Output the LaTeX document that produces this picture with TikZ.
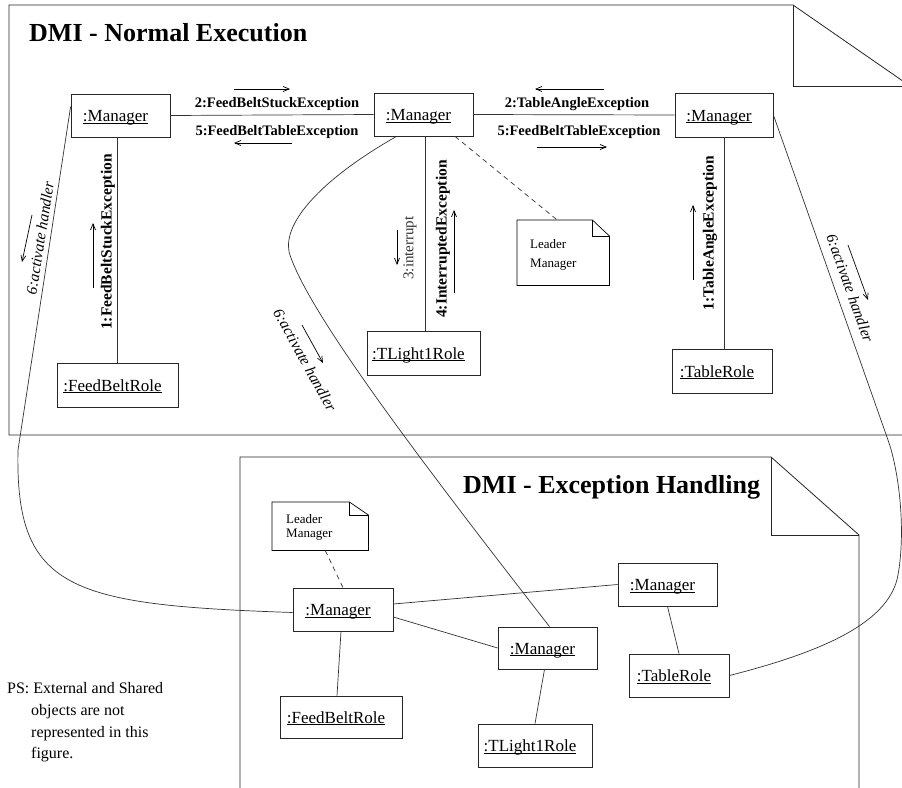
\documentclass[tikz,border=0pt]{standalone}
\usepackage{fontspec}
\setmainfont{Liberation Serif}
\usetikzlibrary{arrows.meta,calc}
\newcommand\uln[1]{\setbox0\hbox{#1}\rlap{\rule[-2.2pt]{\wd0}{0.8pt}}\box0}
\newcommand\objt[1]{\hspace*{-10pt}\uln{#1}}
\tikzset{
  obj/.style={draw=black!85, line width=0.8pt, inner sep=0pt, text height=13pt, text depth=1pt,
    font=\fontsize{17}{20}\selectfont},
  link/.style={line width=0.7pt, draw=black!80},
  msg/.style={line width=0.7pt, -{Straight Barb[length=6pt,width=5pt]}},
  hlab/.style={font=\fontsize{14.5}{17}\selectfont\bfseries, anchor=base, inner sep=0pt},
  vlab/.style={font=\fontsize{15.5}{18}\selectfont\bfseries, rotate=90, inner sep=0pt},
  ilab/.style={font=\fontsize{15.5}{18}\selectfont\itshape, inner sep=0pt},
  notetxt/.style={font=\fontsize{13}{15}\selectfont, anchor=base west, inner sep=0pt},
  frame/.style={line width=0.8pt, draw=black!85},
  title/.style={font=\fontsize{26}{30}\selectfont\bfseries, anchor=base west, inner sep=0pt},
}
\begin{document}
\begin{tikzpicture}[x=1pt,y=-1pt]
\clip (0,0) rectangle (902,787);
\fill[white] (0,0) rectangle (902,787);
% ---------- frames
\draw[frame] (9,5) -- (793,5) -- (910,86) -- (910,435) -- (9,435) -- cycle;
\draw[frame] (793,5) -- (793,86) -- (910,86);
\draw[frame] (240,457) -- (771,457) -- (859,535) -- (859,800) -- (240,800) -- cycle;
\draw[frame] (771,457) -- (771,535) -- (859,535);
\node[title] (t1) at (29,41) {DMI - Normal Execution};
\node[title] (t2) at (463,493) {DMI - Exception Handling};
% ---------- top objects
\node[obj, minimum width=99pt, minimum height=43pt] (m1) at (120.5,115.5) {\objt{:Manager}};
\node[obj, minimum width=99pt, minimum height=43pt] (m2) at (423.5,114.5) {\objt{:Manager}};
\node[obj, minimum width=98pt, minimum height=44pt] (m3) at (724,115) {\objt{:Manager}};
\node[obj, minimum width=121pt, minimum height=44pt] (fb) at (117.5,385) {\objt{:FeedBeltRole}};
\node[obj, minimum width=113pt, minimum height=44pt] (tl) at (423.5,353) {\objt{:TLight1Role}};
\node[obj, minimum width=100pt, minimum height=44pt] (tr) at (722,371) {\objt{:TableRole}};
% note top
\node[minimum width=92pt, minimum height=65pt, inner sep=0pt, anchor=north west] (n1) at (517,220) {};
\draw[line width=0.7pt] (n1.north west) -- ($(n1.north east)+(-17,0)$) -- ($(n1.north east)+(0,16)$) -- (n1.south east) -- (n1.south west) -- cycle;
\draw[line width=0.7pt] ($(n1.north east)+(-17,0)$) -- ($(n1.north east)+(-17,16)$) -- ($(n1.north east)+(0,16)$);
\node[notetxt] (n1a) at (530,248) {Leader};
\node[notetxt] (n1b) at (530,267) {Manager};
% ---------- top links
\draw[link] (m1.east) -- (m2.west);
\draw[link] (m2.east) -- (m3.west);
\draw[link] (fb.north) -- (fb.north |- m1.south);
\draw[link] ($(tl.north)+(2,0)$) -- ($(tl.north |- m2.south)+(2,0)$);
\draw[link] (m3.south) -- (m3.south |- tr.north);
\draw[link, dashed, dash pattern=on 5pt off 4pt] ($(m2.south)+(31.5,0)$) -- ($(n1.north)+(-6,0)$);
% labels
\node[hlab] (l2a) at (277,107) {2:FeedBeltStuckException};
\node[hlab] (l5a) at (277,135) {5:FeedBeltTableException};
\node[hlab] (l2b) at (577,107) {2:TableAngleException};
\node[hlab] (l5b) at (579,135) {5:FeedBeltTableException};
\node[vlab] (l1a) at (108,242) {1:FeedBeltStuckException};
\node[vlab, font=\fontsize{15}{18}\selectfont, text=black!80] (l3) at (410,248) {3:interrupt};
\node[vlab] (l4) at (443,239) {4:InterruptedException};
\node[vlab] (l1b) at (710,233) {1:TableAngleException};
% message arrows
\coordinate (a1s) at (234,89);  \coordinate (a1e) at (290,89);
\coordinate (a2s) at (292,143); \coordinate (a2e) at (234,143);
\coordinate (a3s) at (604,89);  \coordinate (a3e) at (535,89);
\coordinate (a4s) at (537,147); \coordinate (a4e) at (607,147);
\coordinate (a5s) at (93,288);  \coordinate (a5e) at (93,223);
\coordinate (a6s) at (397,230); \coordinate (a6e) at (397,265);
\coordinate (a7s) at (454,293); \coordinate (a7e) at (454,210);
\coordinate (a8s) at (693,280); \coordinate (a8e) at (693,205);
\coordinate (a9s) at (32,215);  \coordinate (a9e) at (22,262);
\coordinate (a10s) at (302,325); \coordinate (a10e) at (323,363);
\coordinate (a11s) at (848,245); \coordinate (a11e) at (868,300);
\foreach \a in {a1,a2,a3,a4,a5,a6,a7,a8,a9,a10,a11} \draw[msg] (\a s) -- (\a e);
% ---------- bottom objects
\node[obj, minimum width=100pt, minimum height=43pt] (ma) at (343,609.5) {\objt{:Manager}};
\node[obj, minimum width=99pt, minimum height=42pt] (mb) at (547.5,648) {\objt{:Manager}};
\node[obj, minimum width=99pt, minimum height=43pt] (mc) at (667.5,584.5) {\objt{:Manager}};
\node[obj, minimum width=122pt, minimum height=42pt] (fb2) at (341,717) {\objt{:FeedBeltRole}};
\node[obj, minimum width=100pt, minimum height=43pt] (tr2) at (679,675.5) {\objt{:TableRole}};
\node[obj, minimum width=114pt, minimum height=43pt] (tl2) at (535,745.5) {\objt{:TLight1Role}};
% note bottom
\node[minimum width=96pt, minimum height=48pt, inner sep=0pt, anchor=north west] (n2) at (272,502) {};
\draw[line width=0.7pt] (n2.north west) -- ($(n2.north east)+(-19,0)$) -- ($(n2.north east)+(0,13)$) -- (n2.south east) -- (n2.south west) -- cycle;
\draw[line width=0.7pt] ($(n2.north east)+(-19,0)$) -- ($(n2.north east)+(-19,13)$) -- ($(n2.north east)+(0,13)$);
\node[notetxt] (n2a) at (286,523) {Leader};
\node[notetxt] (n2b) at (286,537) {Manager};
% bottom links
\draw[link] ($(ma.east)+(0,-5.5)$) -- (mc.west);
\draw[link] ($(ma.east)+(0,7.5)$) -- (mb.west);
\draw[link] ($(mb.south)+(-3,0)$) -- (tl2.north);
\draw[link] (mc.south) -- (tr2.north);
\draw[link] ($(ma.south)+(-2,0)$) -- ($(fb2.north)+(-4,0)$);
\draw[link, dashed, dash pattern=on 5pt off 4pt] ($(n2.south)+(5,0)$) -- (ma.north);
% ---------- activate handler connectors
\draw[link] (m1.170) -- (18,450) .. controls (15,590) and (70,605) .. ($(ma.west)+(0,3)$);
\draw[link] (m2.219) .. controls (320,180) and (280,225) .. (290,255) .. controls (310,315) and (420,460) .. ($(mb.north)+(2,0)$);
\draw[link] (m3.east) -- (888,440) .. controls (899,471) and (906,530) .. (898,575) .. controls (890,620) and (830,650) .. (tr2.east);
\node[ilab, rotate=81] (h1) at (40,238) {6:activate handler};
\node[ilab, rotate=-61] (h2) at (305,360) {6:activate handler};
\node[ilab, rotate=-70.5] (h3) at (850,288) {6:activate handler};
% ---------- PS
\node[anchor=base west, inner sep=0pt, font=\fontsize{16}{21.5}\selectfont] (ps1) at (7,693) {PS: External and Shared};
\node[anchor=base west, inner sep=0pt, font=\fontsize{16}{21.5}\selectfont] (ps2) at (31,715) {objects are not};
\node[anchor=base west, inner sep=0pt, font=\fontsize{16}{21.5}\selectfont] (ps3) at (31,737) {represented in this};
\node[anchor=base west, inner sep=0pt, font=\fontsize{16}{21.5}\selectfont] (ps4) at (31,758) {figure.};
\end{tikzpicture}
\end{document}
